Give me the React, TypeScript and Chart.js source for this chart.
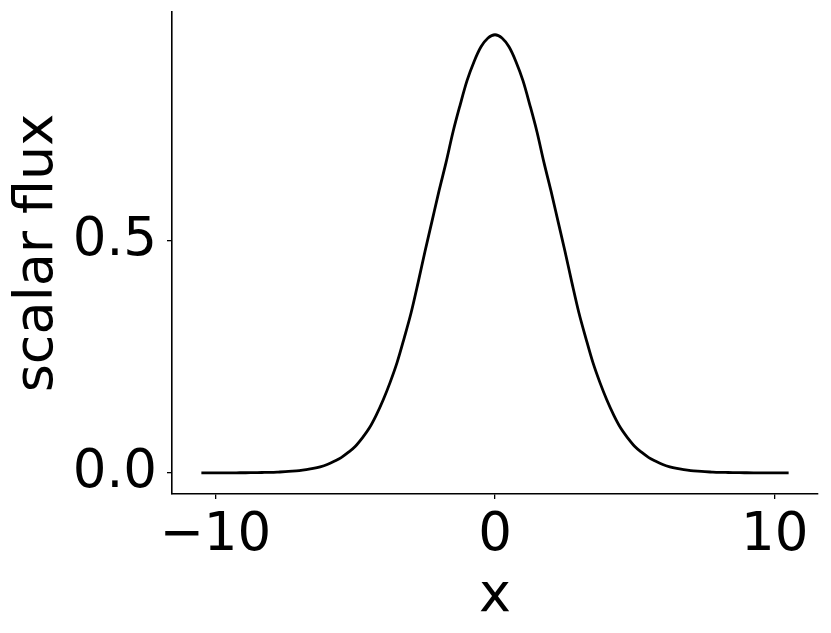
import React, { useEffect, useRef } from "react";
import { Chart, registerables } from "chart.js";

Chart.register(...registerables);

const xValues = [
  -10.5, -10.25, -10, -9.75, -9.5, -9.25, -9, -8.75, -8.5, -8.25, -8, -7.75, -7.5, -7.25, -7, -6.75, -6.5, -6.25, -6, -5.75, -5.5,
  -5.25, -5, -4.75, -4.5, -4.25, -4, -3.75, -3.5, -3.25, -3, -2.75, -2.5, -2.25, -2, -1.75, -1.5, -1.25, -1, -0.75, -0.5, -0.25,
  0,
  0.25, 0.5, 0.75, 1, 1.25, 1.5, 1.75, 2, 2.25, 2.5, 2.75, 3, 3.25, 3.5, 3.75, 4, 4.25, 4.5, 4.75, 5, 5.25,
  5.5, 5.75, 6, 6.25, 6.5, 6.75, 7, 7.25, 7.5, 7.75, 8, 8.25, 8.5, 8.75, 9, 9.25, 9.5, 9.75, 10, 10.25, 10.5,
];

const fluxValues = [
  0.0, 0.0, 0.0001, 0.0001, 0.0001, 0.0002, 0.0003, 0.0004, 0.0006, 0.0009, 0.0012, 0.0018, 0.0025, 0.0036, 0.005, 0.007, 0.0095, 0.013, 0.018, 0.025, 0.033,
  0.044, 0.057, 0.075, 0.096, 0.124, 0.157, 0.195, 0.238, 0.29, 0.345, 0.41, 0.478, 0.543, 0.608, 0.669, 0.735, 0.792, 0.845, 0.886, 0.918, 0.937,
  0.944,
  0.937, 0.918, 0.886, 0.845, 0.792, 0.735, 0.669, 0.608, 0.543, 0.478, 0.41, 0.345, 0.29, 0.238, 0.195, 0.157, 0.124, 0.096, 0.075, 0.057, 0.044,
  0.033, 0.025, 0.018, 0.013, 0.0095, 0.007, 0.005, 0.0036, 0.0025, 0.0018, 0.0012, 0.0009, 0.0006, 0.0004, 0.0003, 0.0002, 0.0001, 0.0001, 0.0001, 0.0, 0.0,
];

const xTicks = [-10, 0, 10];
const yTicks = [0, 0.5];
const xLabel = "x";
const yLabel = "scalar flux";

export default function App() {
  const ref = useRef<HTMLCanvasElement>(null);

  useEffect(() => {
    document.body.style.margin = "0";
    const canvas = ref.current;
    if (!canvas) return;
    const font = "'DejaVu Sans', sans-serif";
    const chart = new Chart(canvas, {
      type: "scatter",
      data: {
        datasets: [
          {
            data: xValues.map((x, i) => ({ x, y: fluxValues[i] })),
            showLine: true,
            borderColor: "#000",
            borderWidth: 2.8,
            pointRadius: 0,
            cubicInterpolationMode: "monotone",
            fill: false,
          },
        ],
      },
      options: {
        responsive: false,
        animation: false,
        devicePixelRatio: 1,
        layout: { padding: { top: 12, right: 13, left: 0, bottom: 0 } },
        plugins: { legend: { display: false }, tooltip: { enabled: false } },
        scales: {
          x: {
            type: "linear",
            min: -11.55,
            max: 11.55,
            afterBuildTicks: (scale: any) => {
              scale.ticks = xTicks.map((v) => ({ value: v }));
            },
            afterFit: (scale: any) => {
              scale.height = 139;
              scale.paddingLeft = 0;
              scale.paddingRight = 0;
            },
            grid: {
              display: true,
              drawOnChartArea: false,
              drawTicks: true,
              tickLength: 5,
              color: "#000",
              lineWidth: 1.3,
            },
            border: { display: true, color: "#000", width: 1.6 },
            ticks: {
              color: "#000",
              padding: 5,
              maxRotation: 0,
              font: { family: font, size: 53 },
              callback: (v: any) => (Number(v) < 0 ? "\u2212" + Math.abs(Number(v)) : String(v)),
            },
            title: {
              display: true,
              text: xLabel,
              color: "#000",
              font: { family: font, size: 54 },
              padding: { top: 0, bottom: 4 },
            },
          },
          y: {
            type: "linear",
            min: -0.0455,
            max: 0.993,
            afterBuildTicks: (scale: any) => {
              scale.ticks = yTicks.map((v) => ({ value: v }));
            },
            afterFit: (scale: any) => {
              scale.width = 172;
              scale.paddingTop = 0;
              scale.paddingBottom = 0;
            },
            grid: {
              display: true,
              drawOnChartArea: false,
              drawTicks: true,
              tickLength: 5,
              color: "#000",
              lineWidth: 1.3,
            },
            border: { display: true, color: "#000", width: 1.6 },
            ticks: {
              color: "#000",
              padding: 10,
              font: { family: font, size: 53 },
              callback: (v: any) => Number(v).toFixed(1),
            },
            title: {
              display: true,
              text: yLabel,
              color: "#000",
              font: { family: font, size: 54 },
              padding: { top: 6, bottom: 0 },
            },
          },
        },
      },
    });
    return () => chart.destroy();
  }, []);

  return (
    <div style={{ position: "absolute", left: 0, top: 0, width: 831, height: 633 }}>
      <canvas ref={ref} width={831} height={633} style={{ display: "block", width: 831, height: 633 }} />
    </div>
  );
}
